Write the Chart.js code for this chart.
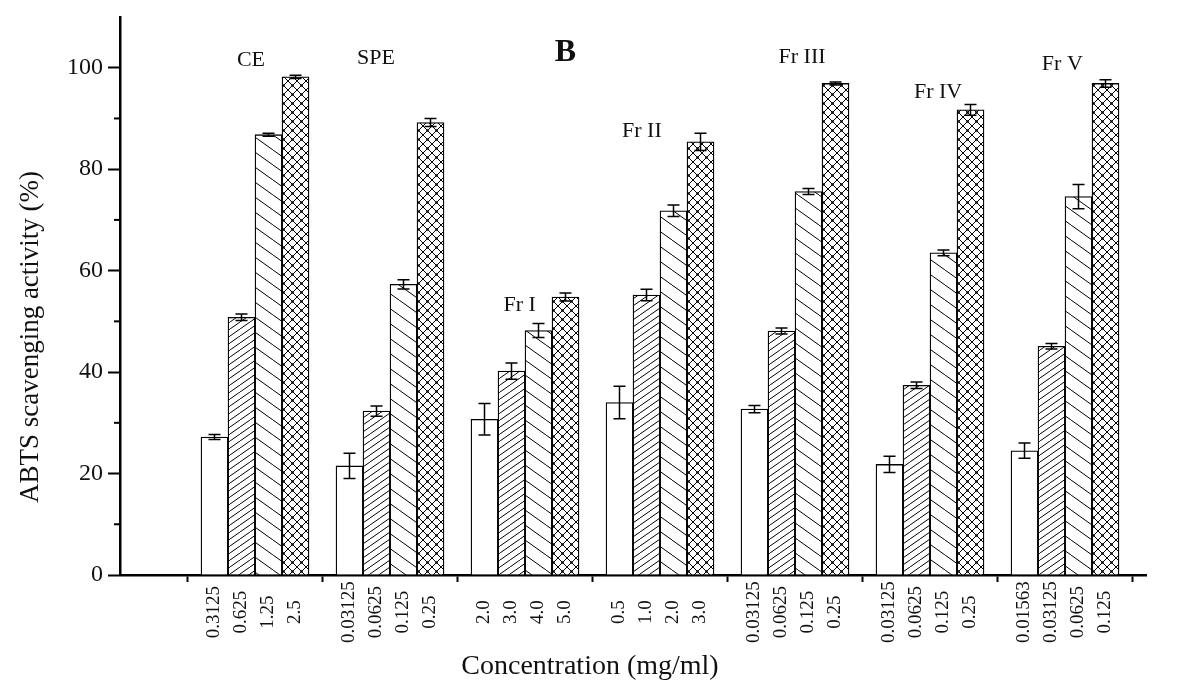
<!DOCTYPE html>
<html lang="en">
<head>
  <meta charset="UTF-8">
  <title>ABTS scavenging activity</title>
  <script src="https://cdn.jsdelivr.net/npm/chart.js"></script>
  <style>
    html, body { margin: 0; padding: 0; background: #fff; }
    #wrap { width: 1189px; height: 680px; position: relative; }
  </style>
</head>
<body>
  <div id="wrap"><canvas id="abtsChart"></canvas></div>

  <script>
    // --- DATA ---
    const groups = ['CE', 'SPE', 'Fr I', 'Fr II', 'Fr III', 'Fr IV', 'Fr V'];
    const concLabels = [
      ['0.3125', '0.625', '1.25', '2.5'],
      ['0.03125', '0.0625', '0.125', '0.25'],
      ['2.0', '3.0', '4.0', '5.0'],
      ['0.5', '1.0', '2.0', '3.0'],
      ['0.03125', '0.0625', '0.125', '0.25'],
      ['0.03125', '0.0625', '0.125', '0.25'],
      ['0.01563', '0.03125', '0.0625', '0.125']
    ];
    // one array per concentration step (lowest -> highest), one value per group
    const level1 = [27.2, 21.5, 30.7, 34.0, 32.7, 21.8, 24.5];
    const level2 = [50.8, 32.3, 40.2, 55.2, 48.1, 37.4, 45.1];
    const level3 = [86.8, 57.3, 48.2, 71.8, 75.6, 63.5, 74.6];
    const level4 = [98.2, 89.2, 54.8, 85.4, 96.9, 91.7, 96.9];
    // standard deviations
    const err1 = [0.5, 2.5, 3.1, 3.2, 0.7, 1.6, 1.5];
    const err2 = [0.65, 1.0, 1.6, 1.15, 0.6, 0.65, 0.55];
    const err3 = [0.3, 0.9, 1.4, 1.15, 0.6, 0.55, 2.4];
    const err4 = [0.3, 0.8, 0.8, 1.7, 0.3, 1.05, 0.75];

    const yTitle = 'ABTS scavenging activity (%)';
    const xTitle = 'Concentration (mg/ml)';
    const panelLetter = 'B';

    // where the group names sit (y in % units, x shift in bar slots from group centre)
    const groupLabelY = [101.4, 101.8, 53.2, 87.4, 102.0, 95.1, 100.7];
    const groupLabelShift = [-0.15, -0.52, -0.2, -0.67, 0.26, 0.3, -0.1];

    const FONT = '"Liberation Serif", "Times New Roman", serif';

    // --- SLOT LAYOUT: 3 empty slots, then 4 bars + 1 gap per group ---
    const LEAD = 3, PER_GROUP = 5;
    const SLOTS = LEAD + PER_GROUP * groups.length;
    const slotOf = (g, j) => LEAD + PER_GROUP * g + j;

    const slotLabels = new Array(SLOTS).fill('');
    concLabels.forEach((row, g) => row.forEach((lab, j) => { slotLabels[slotOf(g, j)] = lab; }));

    const tickSlots = [];
    for (let g = 0; g <= groups.length; g++) tickSlots.push(slotOf(g, -1));

    function spread(values, j) {
      const out = new Array(SLOTS).fill(null);
      values.forEach((v, g) => { out[slotOf(g, j)] = v; });
      return out;
    }

    // --- FILL PATTERNS ---
    function makePattern(kind) {
      const c = document.createElement('canvas');
      const g = c.getContext('2d');
      let w = 10, h = 7;
      if (kind === 'back') { w = 21; h = 15; }
      if (kind === 'cross') { w = 9; h = 9; }
      c.width = w; c.height = h;
      g.fillStyle = '#fff';
      g.fillRect(0, 0, w, h);
      g.strokeStyle = '#000';
      g.lineWidth = 1;
      g.beginPath();
      for (let k = -1; k <= 1; k++) {
        const o = k * w;
        if (kind === 'fwd' || kind === 'cross') { g.moveTo(o, h); g.lineTo(o + w, 0); }
        if (kind === 'back' || kind === 'cross') { g.moveTo(o, 0); g.lineTo(o + w, h); }
      }
      g.stroke();
      if (kind === 'cross') {
        g.fillStyle = '#000';
        g.beginPath();
        g.arc(w / 2, h / 2, 1.2, 0, Math.PI * 2);
        g.fill();
      }
      return g.createPattern(c, 'repeat');
    }

    const series = [
      { values: level1, errors: err1, fill: '#fff' },
      { values: level2, errors: err2, fill: makePattern('fwd') },
      { values: level3, errors: err3, fill: makePattern('back') },
      { values: level4, errors: err4, fill: makePattern('cross') }
    ];

    // --- PLUGINS ---
    const errorBars = {
      id: 'errorBars',
      afterDatasetsDraw(chart) {
        const { ctx, scales: { y } } = chart;
        ctx.save();
        ctx.strokeStyle = '#000';
        ctx.lineWidth = 1.5;
        chart.data.datasets.forEach((ds, di) => {
          const meta = chart.getDatasetMeta(di);
          ds.errors.forEach((e, i) => {
            if (e == null || ds.data[i] == null) return;
            const bx = meta.data[i].x;
            const top = y.getPixelForValue(ds.data[i] + e);
            const bot = y.getPixelForValue(ds.data[i] - e);
            ctx.beginPath();
            ctx.moveTo(bx, top); ctx.lineTo(bx, bot);
            ctx.moveTo(bx - 6, top); ctx.lineTo(bx + 6, top);
            ctx.moveTo(bx - 6, bot); ctx.lineTo(bx + 6, bot);
            ctx.stroke();
          });
        });
        ctx.restore();
      }
    };

    const annotations = {
      id: 'annotations',
      afterDraw(chart) {
        const { ctx, chartArea, scales: { x, y } } = chart;
        ctx.save();

        // minor ticks on the y axis
        ctx.strokeStyle = '#000';
        ctx.lineWidth = 2;
        for (let v = 10; v < 110; v += 20) {
          const py = y.getPixelForValue(v);
          ctx.beginPath();
          ctx.moveTo(chartArea.left - 6, py);
          ctx.lineTo(chartArea.left, py);
          ctx.stroke();
        }

        ctx.fillStyle = '#111';
        ctx.textAlign = 'center';
        ctx.textBaseline = 'middle';

        // concentration labels under every bar, rotated
        ctx.font = `19px ${FONT}`;
        slotLabels.forEach((lab, i) => {
          if (!lab) return;
          ctx.save();
          ctx.translate(x.getPixelForValue(i), x.top + 37);
          ctx.rotate(-Math.PI / 2);
          ctx.fillText(lab, 0, 0);
          ctx.restore();
        });

        // group names
        ctx.font = `22px ${FONT}`;
        groups.forEach((name, g) => {
          const px = x.getPixelForValue(slotOf(g, 1.5) + groupLabelShift[g]);
          ctx.fillText(name, px, y.getPixelForValue(groupLabelY[g]));
        });

        // panel letter
        ctx.font = `bold 32px ${FONT}`;
        ctx.fillText(panelLetter, x.getPixelForValue(16), y.getPixelForValue(103));

        // axis titles
        ctx.font = `28px ${FONT}`;
        ctx.fillText(xTitle, 590, 667);
        ctx.save();
        ctx.translate(31, 337);
        ctx.rotate(-Math.PI / 2);
        ctx.font = `27px ${FONT}`;
        ctx.fillText(yTitle, 0, 0);
        ctx.restore();

        ctx.restore();
      }
    };

    // --- CHART ---
    new Chart(document.getElementById('abtsChart'), {
      type: 'bar',
      data: {
        labels: slotLabels,
        datasets: series.map((s, j) => ({
          label: 'step ' + (j + 1),
          data: spread(s.values, j),
          errors: spread(s.errors, j),
          backgroundColor: s.fill,
          borderColor: '#000',
          borderWidth: 1.3,
          barPercentage: 1,
          categoryPercentage: 1,
          grouped: false
        }))
      },
      options: {
        responsive: true,
        maintainAspectRatio: false,
        animation: false,
        layout: { padding: { top: 15, right: 43, bottom: 0, left: 0 } },
        plugins: { legend: { display: false }, tooltip: { enabled: false } },
        scales: {
          x: {
            offset: true,
            border: { color: '#000', width: 2.5 },
            grid: {
              offset: false,
              drawOnChartArea: false,
              tickLength: 7,
              tickWidth: 2,
              tickColor: ctx => tickSlots.includes(ctx.index) ? '#000' : 'rgba(0,0,0,0)'
            },
            ticks: { display: false, autoSkip: false },
            afterFit: s => { s.height = 105; }
          },
          y: {
            min: 0,
            max: 110,
            border: { color: '#000', width: 2.5 },
            grid: {
              drawOnChartArea: false,
              tickLength: 12,
              tickWidth: 2,
              tickColor: ctx => (ctx.tick && ctx.tick.value % 20 === 0 && ctx.tick.value <= 100) ? '#000' : 'rgba(0,0,0,0)'
            },
            ticks: {
              stepSize: 10,
              padding: 5,
              color: '#111',
              font: { family: FONT, size: 24, lineHeight: 1 },
              callback: v => (v % 20 === 0 && v <= 100) ? v : ''
            },
            afterFit: s => { s.width = 120; }
          }
        }
      },
      plugins: [errorBars, annotations]
    });
  </script>
</body>
</html>
